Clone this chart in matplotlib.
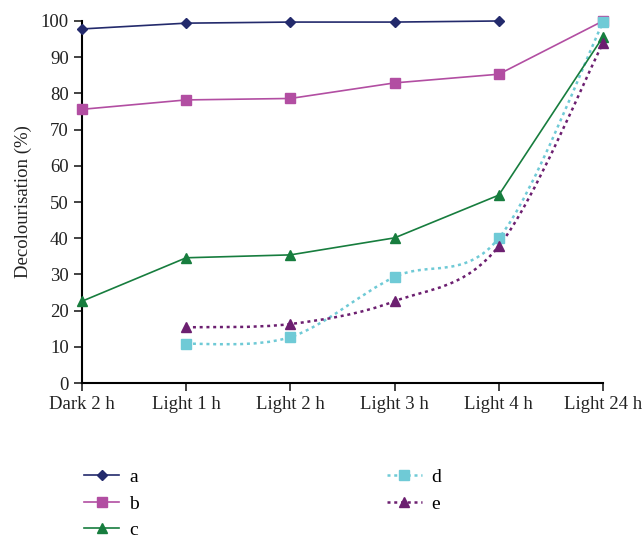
import numpy as np
import matplotlib
matplotlib.use("Agg")
import matplotlib.pyplot as plt
from matplotlib.path import Path
from matplotlib.patches import PathPatch
from matplotlib.lines import Line2D

plt.rcParams['font.family'] = ['Liberation Serif', 'DejaVu Serif']

categories = ["Dark 2 h", "Light 1 h", "Light 2 h", "Light 3 h", "Light 4 h", "Light 24 h"]
a = [97.8, 99.4, 99.7, 99.7, 100.0, np.nan]
b = [75.6, 78.2, 78.6, 82.9, 85.3, 100.0]
c = [22.6, 34.6, 35.4, 40.1, 51.9, 95.6]
d = [np.nan, 10.8, 12.7, 29.3, 40.0, 99.6]
e = [np.nan, 15.4, 16.3, 22.6, 37.8, 93.9]

col_a = "#232a6c"
col_b = "#b24ea2"
col_c = "#177d3e"
col_d = "#6fcad6"
col_e = "#6c1f70"


def smooth_path(x, y):
    """Excel-like smoothed line through the points (cubic Bezier segments)."""
    pts = np.column_stack([x, y])
    verts = [pts[0]]
    codes = [Path.MOVETO]
    n = len(pts)
    for i in range(n - 1):
        p0 = pts[i - 1] if i > 0 else pts[i]
        p1 = pts[i]
        p2 = pts[i + 1]
        p3 = pts[i + 2] if i + 2 < n else pts[i + 1]
        c1 = p1 + (p2 - p0) / 6.0
        c2 = p2 - (p3 - p1) / 6.0
        verts += [c1, c2, p2]
        codes += [Path.CURVE4] * 3
    return Path(verts, codes)


fig = plt.figure(figsize=(6.42, 5.38), dpi=100)
ax = fig.add_axes([0.1277, 0.288, 0.8115, 0.673])
x = np.arange(len(categories))

ax.plot(x, a, color=col_a, lw=1.2, marker="D", ms=5.5, label="a", clip_on=False, zorder=4)
ax.plot(x, b, color=col_b, lw=1.2, marker="s", ms=7, label="b", clip_on=False, zorder=4)
ax.plot(x, c, color=col_c, lw=1.2, marker="^", ms=7.5, label="c", clip_on=False, zorder=4)

for ys, col, mk, ms in [(d, col_d, "s", 7), (e, col_e, "^", 7.5)]:
    ys = np.array(ys)
    ok = ~np.isnan(ys)
    ax.add_patch(PathPatch(smooth_path(x[ok], ys[ok]), facecolor="none", edgecolor=col,
                           lw=1.8, linestyle=(0, (1.2, 1.5)), clip_on=False, zorder=3))
    ax.plot(x[ok], ys[ok], ls="none", marker=mk, ms=ms, color=col, clip_on=False, zorder=4)

handles = [
    Line2D([], [], color=col_a, lw=1.2, marker="D", ms=5.5),
    Line2D([], [], color=col_b, lw=1.2, marker="s", ms=7),
    Line2D([], [], color=col_c, lw=1.2, marker="^", ms=7.5),
    Line2D([], [], color=col_d, lw=1.8, ls=(0, (1.2, 1.5)), marker="s", ms=7),
    Line2D([], [], color=col_e, lw=1.8, ls=(0, (1.2, 1.5)), marker="^", ms=7.5),
]
ax.legend(handles, ["a", "b", "c", "d", "e"], ncol=2, frameon=False, fontsize=14,
          loc="upper left", bbox_to_anchor=(0.116, 0.147), bbox_transform=fig.transFigure,
          borderpad=0, handlelength=1.8, handletextpad=0.5, columnspacing=12.75, labelspacing=0.45)

ax.set_xlim(0, 5)
ax.set_ylim(0, 100)
ax.set_xticks(x)
ax.set_xticklabels(categories)
ax.set_yticks(np.arange(0, 101, 10))
ax.set_ylabel("Decolourisation (%)", fontsize=13.5, color="#222222", labelpad=6)
ax.tick_params(labelsize=13.5, colors="#222222", length=6, width=1.2, direction="out")
for s in ["top", "right"]:
    ax.spines[s].set_visible(False)
for s in ["left", "bottom"]:
    ax.spines[s].set_linewidth(1.5)

fig.savefig("out.png", dpi=100)
